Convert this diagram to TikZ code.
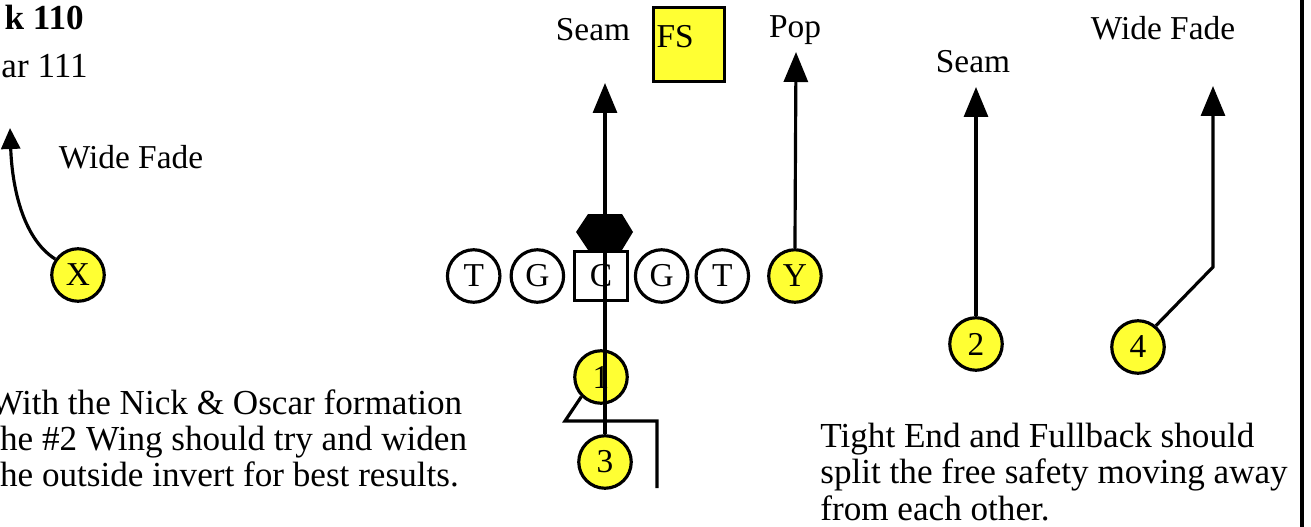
\documentclass[tikz,border=0pt]{standalone}
\usepackage{fontspec}
\setmainfont{Liberation Serif}
\usepackage{tikz}
\usetikzlibrary{arrows.meta,positioning}
\definecolor{playyellow}{RGB}{255,255,51}

\begin{document}
\begin{tikzpicture}[
  x=0.02cm, y=-0.02cm,
  every node/.style={font=\fontsize{19}{23}\selectfont},
  player/.style={circle, draw, line width=1.8pt, minimum size=1.05cm, inner sep=0pt},
  skill/.style={player, fill=playyellow},
  snapbox/.style={draw, line width=1.8pt, minimum width=1.05cm, minimum height=0.99cm, inner sep=0pt},
  fsbox/.style={draw, line width=1.8pt, fill=playyellow, minimum width=1.41cm, minimum height=1.47cm, inner sep=0pt},
  route/.style={line width=1.8pt},
  rarr/.style={route, -{Triangle[length=0.6cm, width=0.48cm]}},
  notetext/.style={align=left, anchor=north west, inner sep=0pt, font=\fontsize{20}{20.6}\selectfont}
]
\useasboundingbox (0,0) rectangle (1311,527);
\clip (0,0) rectangle (1311,527);

% Play name
\node[anchor=base east, inner sep=0pt, font=\bfseries\fontsize{20}{24}\selectfont] (playname) at (84,30) {k 110};
\node[anchor=base east, inner sep=0pt, font=\fontsize{20}{24}\selectfont] (formname) at (88,78) {ar 111};

% Offensive line
\node[snapbox] (c) at (601,276) {C};
\node[player, left=0.16cm of c]  (lg) {G};
\node[player, left=0.16cm of lg] (lt) {T};
\node[player, right=0.1cm of c]  (rg) {G};
\node[player, right=0.1cm of rg] (rt) {T};
\node[skill, right=0.34cm of rt] (y)  {Y};
\fill (576,232) -- (588,214) -- (622,214) -- (633,232) -- (622,250) -- (588,250) -- cycle;

% Skill players
\node[skill] (x)  at (78,275)   {X};
\node[skill] (n1) at (601,377)  {1};
\node[skill] (n3) at (605,462)  {3};
\node[skill] (n2) at (976,344)  {2};
\node[skill] (n4) at (1138,347) {4};

% Free safety
\node[fsbox] (fs) at (689,44.5) {};
\node[anchor=base west, inner sep=0pt] (fslabel) at ([xshift=0.08cm, yshift=-0.82cm]fs.north west) {FS};

% Route labels
\node (seamc) at (593,30)  {Seam};
\node (pop)   at (795,30)  {Pop};
\node (seamr) at (973,62)  {Seam};
\node (fader) at (1163,28) {Wide Fade};
\node (fadel) at (131,157) {Wide Fade};

% Route ends
\coordinate (seamtip) at (605,83);
\coordinate (poptip)  at (796,52);
\coordinate (twotip)  at (976,87);
\coordinate (fourbrk) at (1213,267);
\coordinate (fourtip) at (1213,86);
\coordinate (xtip)    at (10,128);
\coordinate (hooka)   at (565,421);
\coordinate (hookb)   at (657,421);
\coordinate (hookc)   at (657,488);

% Routes
\draw[rarr] (n3.north) -- (seamtip);
\draw[rarr] (y.north) -- (poptip);
\draw[rarr] (n2.north) -- (twotip);
\draw[rarr] (n4.50) -- (fourbrk) -- (fourtip);
\draw[route, -{Triangle[length=0.42cm, width=0.38cm]}] (x.145) .. controls (22,238) and (12,185) .. (xtip);
\draw[route] (n1.225) -- (hooka) -- (hookb) -- (hookc);

% Coaching notes
\node[notetext] (leftnote) at (-10,389) {With the Nick \& Oscar formation\\the \#2 Wing should try and widen\\the outside invert for best results.};
\node[notetext] (rightnote) at (820,423) {Tight End and Fullback should\\split the free safety moving away\\from each other.};

% Frame edge
\draw[route] (1302,0) -- (1302,527);
\end{tikzpicture}
\end{document}
